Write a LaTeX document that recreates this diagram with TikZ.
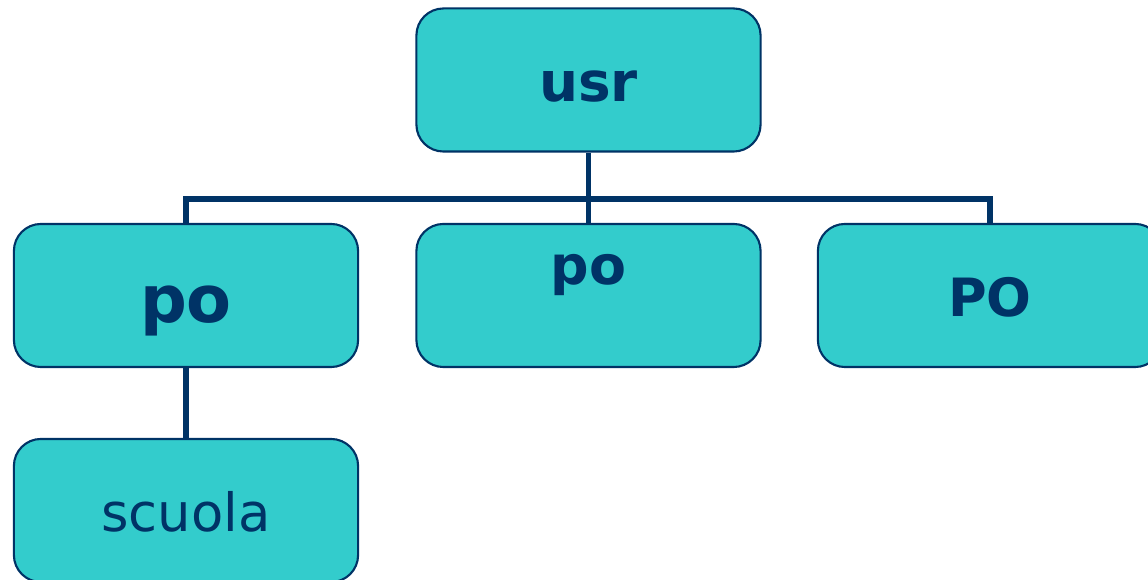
\documentclass[tikz,border=0pt]{standalone}
\usepackage{fontspec}
\setmainfont{DejaVu Sans}
\begin{document}
\begin{tikzpicture}[x=0.01cm,y=-0.01cm,
  box/.style={draw=boxline, fill=boxfill, line width=0.6pt, rounded corners=0.27cm, minimum width=3.44cm, minimum height=1.43cm, inner sep=0pt},
  conn/.style={draw=boxline, line width=1.7pt, line join=miter},
  lbl/.style={anchor=base, text=boxline, inner sep=0pt}]
\definecolor{boxfill}{RGB}{51,204,204}
\definecolor{boxline}{RGB}{0,51,102}
\useasboundingbox (0,0) rectangle (1148,580);
\clip (0,0) rectangle (1148,580);
% boxes
\node[box] (usr) at (588.5,80) {};
\node[box] (po1) at (186,295.5) {};
\node[box] (po2) at (588.5,295.5) {};
\node[box] (po3) at (990,295.5) {};
\node[box] (scuola) at (186,510.5) {};
% connectors
\coordinate (bus) at (588.5,199);
\draw[conn] (usr.south) -- (po2.north);
\draw[conn] (po1.north) |- (bus) -| (po3.north);
\draw[conn] (po1.south) -- (scuola.north);
% labels
\node[lbl, font=\fontsize{15.6}{18}\selectfont\bfseries] (tusr) at (588.5,102) {usr};
\node[lbl, font=\fontsize{18.6}{22}\selectfont\bfseries] (tpo1) at (186,323) {po};
\node[lbl, font=\fontsize{15.3}{18}\selectfont\bfseries] (tpo2) at (588.5,285) {po};
\node[lbl, font=\fontsize{15}{18}\selectfont\bfseries] (tpo3) at (990,317) {PO};
\node[lbl, font=\fontsize{15}{18}\selectfont] (tscuola) at (186,532) {scuola};
\end{tikzpicture}
\end{document}
